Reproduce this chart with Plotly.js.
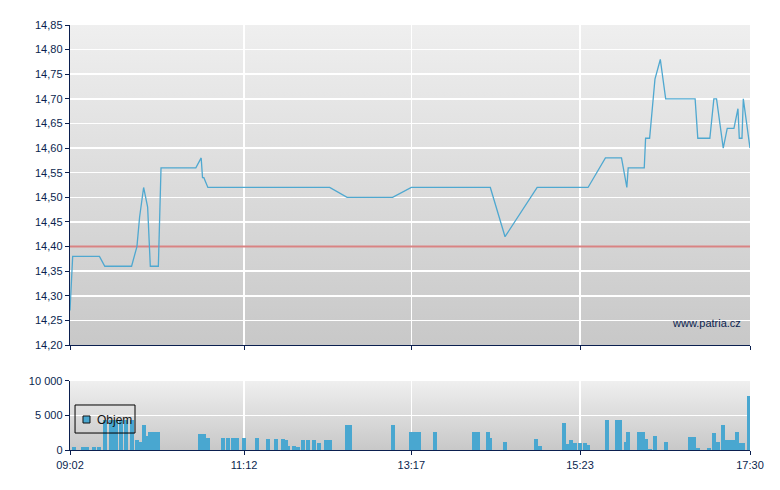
<!DOCTYPE html>
<html>
<head>
<meta charset="utf-8">
<script src="https://cdn.plot.ly/plotly-3.0.1.min.js"></script>
<style>
  html, body { margin: 0; padding: 0; background: #ffffff; }
  #chart { width: 780px; height: 490px; }
</style>
</head>
<body>
<div id="chart"></div>
<script>
// ---------- data ----------
const tradeDate = "2024-01-01";

const priceTimes = ["09:02","09:04","09:24","09:28","09:48","09:52","09:54","09:57","10:00","10:02",
  "10:08","10:10","10:36","10:40","10:41","10:42","10:45","12:16","12:29","13:03",
  "13:17","14:16","14:27","14:51","15:29","15:42","15:54","15:58","15:59","16:11",
  "16:12","16:15","16:19","16:23","16:27","16:49","16:51","17:00","17:03","17:05",
  "17:10","17:13","17:18","17:21","17:22","17:24","17:25","17:30"];
const priceValues = [14.27,14.38,14.38,14.36,14.36,14.40,14.46,14.52,14.48,14.36,
  14.36,14.56,14.56,14.58,14.54,14.54,14.52,14.52,14.50,14.50,
  14.52,14.52,14.42,14.52,14.52,14.58,14.58,14.52,14.56,14.56,
  14.62,14.62,14.74,14.78,14.70,14.70,14.62,14.62,14.70,14.70,
  14.60,14.64,14.64,14.68,14.62,14.62,14.70,14.60];

const prevClose = 14.40;

const volumeTimes = ["09:05","09:12","09:15","09:20","09:24","09:28","09:33","09:36","09:40","09:44",
  "09:48","09:52","09:54","09:57","10:00","10:02","10:05","10:08","10:39","10:42",
  "10:45","10:56","11:00","11:04","11:07","11:12","11:22","11:30","11:36","11:41",
  "11:43","11:45","11:49","11:52","11:56","12:00","12:04","12:08","12:13","12:16",
  "12:29","12:31","13:03","13:17","13:20","13:23","13:35","14:04","14:07","14:14",
  "14:16","14:27","14:50","14:53","15:11","15:14","15:16","15:19","15:23","15:27",
  "15:29","15:43","15:51","15:53","15:57","15:59","16:07","16:10","16:12","16:15",
  "16:19","16:27","16:45","16:48","16:51","16:59","17:03","17:06","17:10","17:13",
  "17:15","17:17","17:20","17:23","17:25","17:29"];
const volumeValues = [400,400,400,400,400,4330,4330,4330,4330,4330,
  4330,1440,1150,3600,2020,2600,2600,2600,2310,2310,
  1730,1730,1730,1730,1730,1730,1730,1600,1600,1600,
  1440,580,580,430,1440,1440,1440,1010,1440,1440,
  3600,3600,3600,2600,2600,2600,2600,2600,2600,2600,
  1730,1150,1590,580,3900,870,1440,1010,1010,1010,
  720,4330,4330,4330,1150,2600,2600,2600,1590,140,
  2020,1150,1880,1880,290,290,2450,1150,3600,1440,
  1440,1440,2600,1010,1010,7800];

const tickLabels = ["09:02","11:12","13:17","15:23","17:30"];
const sessionStart = "09:02";
const sessionEnd = "17:30";
const seriesName = "Objem";
const watermark = "www.patria.cz";

// ---------- helpers ----------
const ts = t => tradeDate + " " + t;
const navy = "#0b1f4f";
const lineBlue = "#4fa8d0";
const barBlue = "#49a7d0";

const gradSvg = "<svg xmlns='http://www.w3.org/2000/svg' width='10' height='100' viewBox='0 0 10 100' preserveAspectRatio='none'>" +
  "<defs><linearGradient id='g' x1='0' y1='0' x2='0' y2='1'>" +
  "<stop offset='0' stop-color='#efefef'/><stop offset='1' stop-color='#c8c8c8'/>" +
  "</linearGradient></defs><rect x='0' y='0' width='10' height='100' fill='url(#g)'/></svg>";
const gradUri = "data:image/svg+xml;charset=utf-8," + encodeURIComponent(gradSvg);

const traces = [
  {
    type: "scatter", mode: "lines",
    x: [ts(sessionStart), ts(sessionEnd)], y: [prevClose, prevClose],
    line: { color: "#d98383", width: 2 },
    xaxis: "x", yaxis: "y", showlegend: false, hoverinfo: "skip"
  },
  {
    type: "scatter", mode: "lines",
    x: priceTimes.map(ts), y: priceValues,
    line: { color: lineBlue, width: 1.3 },
    xaxis: "x", yaxis: "y", showlegend: false
  },
  {
    type: "bar",
    x: volumeTimes.map(ts), y: volumeValues,
    width: 180000,
    marker: { color: barBlue, line: { width: 0 } },
    xaxis: "x2", yaxis: "y2", showlegend: false, name: seriesName
  }
];

const commonX = {
  type: "date",
  range: [ts(sessionStart), ts(sessionEnd)],
  tickmode: "array",
  tickvals: tickLabels.map(ts),
  ticks: "outside", ticklen: 4, tickcolor: navy, tickwidth: 1,
  showgrid: true, gridcolor: "#ffffff", gridwidth: 1.5,
  showline: true, linecolor: navy, linewidth: 1.3,
  zeroline: false, fixedrange: true
};

// legend box (drawn in volume-panel domain coordinates)
const legendShapes = [
  { type: "rect", xref: "x2 domain", yref: "y2 domain", x0: 0.0074, x1: 0.0956, y0: 0.246, y1: 0.652,
    line: { color: "#000000", width: 1 }, fillcolor: "rgba(0,0,0,0)", layer: "above" },
  { type: "rect", xref: "x2 domain", yref: "y2 domain", x0: 0.0191, x1: 0.0294, y0: 0.391, y1: 0.493,
    line: { color: "#111111", width: 1 }, fillcolor: barBlue, layer: "above" }
];

const layout = {
  width: 780, height: 490,
  margin: { l: 70, r: 30, t: 25, b: 40 },
  paper_bgcolor: "#ffffff",
  plot_bgcolor: "rgba(0,0,0,0)",
  separators: ", ",
  font: { family: "Liberation Sans, Arial, sans-serif", size: 11, color: navy },
  showlegend: false,
  xaxis: Object.assign({}, commonX, {
    anchor: "y", domain: [0, 1],
    ticktext: tickLabels, showticklabels: false
  }),
  xaxis2: Object.assign({}, commonX, {
    anchor: "y2", domain: [0, 1], matches: "x",
    ticktext: tickLabels, showticklabels: true
  }),
  yaxis: {
    anchor: "x", domain: [0.247, 1],
    range: [14.2, 14.85], tick0: 14.2, dtick: 0.05, tickformat: ".2f",
    ticks: "outside", ticklen: 4, tickcolor: navy,
    showgrid: true, gridcolor: "#ffffff", gridwidth: 1.5,
    showline: true, linecolor: navy, linewidth: 1.3,
    zeroline: false, fixedrange: true
  },
  yaxis2: {
    anchor: "x2", domain: [0, 0.1624],
    range: [0, 10000], tick0: 0, dtick: 5000, tickformat: ",.0f",
    ticks: "outside", ticklen: 4, tickcolor: navy,
    showgrid: true, gridcolor: "#ffffff", gridwidth: 1.5,
    showline: true, linecolor: navy, linewidth: 1.3,
    zeroline: false, fixedrange: true
  },
  images: [
    { source: gradUri, xref: "x domain", yref: "y domain", x: 0, y: 1, sizex: 1, sizey: 1,
      xanchor: "left", yanchor: "top", sizing: "stretch", layer: "below" },
    { source: gradUri, xref: "x2 domain", yref: "y2 domain", x: 0, y: 1, sizex: 1, sizey: 1,
      xanchor: "left", yanchor: "top", sizing: "stretch", layer: "below" }
  ],
  shapes: legendShapes,
  annotations: [
    { text: watermark, xref: "x domain", yref: "y domain", x: 0.99, y: 0.069,
      xanchor: "right", yanchor: "middle", showarrow: false,
      font: { size: 11, color: navy } },
    { text: seriesName, xref: "x2 domain", yref: "y2 domain", x: 0.037, y: 0.44,
      xanchor: "left", yanchor: "middle", showarrow: false,
      font: { size: 12, color: "#111111" } }
  ],
  bargap: 0
};

Plotly.newPlot("chart", traces, layout, { displayModeBar: false, staticPlot: true });
</script>
</body>
</html>
